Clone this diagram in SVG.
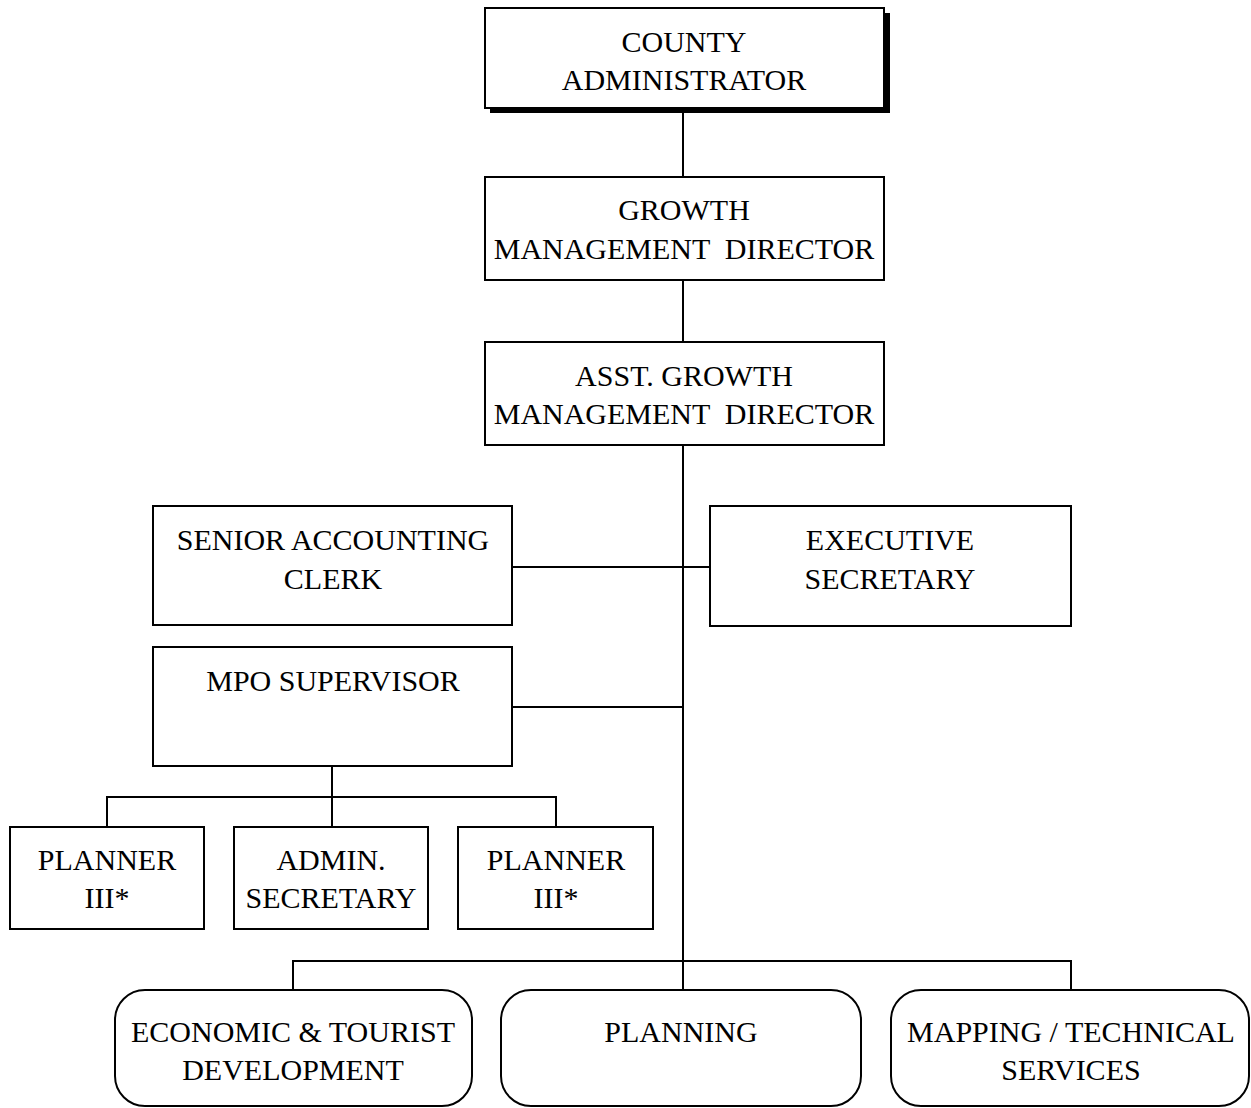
<svg xmlns="http://www.w3.org/2000/svg" width="1251" height="1108" viewBox="0 0 1251 1108">
  <style>
    .box { fill: #fff; stroke: #000; stroke-width: 2; }
    .shadow { fill: #000; }
    .lbl { font-family: "Liberation Serif", "Times New Roman", serif; font-size: 30px; fill: #000; text-anchor: middle; white-space: pre; }
    .wire { fill: none; stroke: #000; stroke-width: 2; }
  </style>
  <rect width="1251" height="1108" fill="#fff"/>

  <!-- reporting lines -->
  <g id="connectors">
    <path class="wire" d="M683 110 V177"/>
    <path class="wire" d="M683 280 V342"/>
    <path class="wire" d="M683 445 V990"/>
    <path class="wire" d="M512 567 H710"/>
    <path class="wire" d="M512 707 H683"/>
    <path class="wire" d="M332 766 V797 M107 827 V797 H556 V827 M332 797 V827"/>
    <path class="wire" d="M293 990 V961 H1071 V990"/>
  </g>

  <g id="county-administrator">
    <rect class="shadow" x="490" y="13" width="400" height="100"/>
    <rect class="box" x="485" y="8" width="399" height="100"/>
    <text class="lbl" x="684" y="52">COUNTY</text>
    <text class="lbl" x="684" y="90">ADMINISTRATOR</text>
  </g>

  <g id="growth-management-director">
    <rect class="box" x="485" y="177" width="399" height="103"/>
    <text class="lbl" x="684" y="220">GROWTH</text>
    <text class="lbl" x="684" y="259">MANAGEMENT  DIRECTOR</text>
  </g>

  <g id="asst-growth-management-director">
    <rect class="box" x="485" y="342" width="399" height="103"/>
    <text class="lbl" x="684" y="386">ASST. GROWTH</text>
    <text class="lbl" x="684" y="424">MANAGEMENT  DIRECTOR</text>
  </g>

  <g id="senior-accounting-clerk">
    <rect class="box" x="153" y="506" width="359" height="119"/>
    <text class="lbl" x="333" y="550">SENIOR ACCOUNTING</text>
    <text class="lbl" x="333" y="589">CLERK</text>
  </g>

  <g id="executive-secretary">
    <rect class="box" x="710" y="506" width="361" height="120"/>
    <text class="lbl" x="890" y="550">EXECUTIVE</text>
    <text class="lbl" x="890" y="589">SECRETARY</text>
  </g>

  <g id="mpo-supervisor">
    <rect class="box" x="153" y="647" width="359" height="119"/>
    <text class="lbl" x="333" y="691">MPO SUPERVISOR</text>
  </g>

  <g id="planner-iii-a">
    <rect class="box" x="10" y="827" width="194" height="102"/>
    <text class="lbl" x="107" y="870">PLANNER</text>
    <text class="lbl" x="107" y="908">III*</text>
  </g>

  <g id="admin-secretary">
    <rect class="box" x="234" y="827" width="194" height="102"/>
    <text class="lbl" x="331" y="870">ADMIN.</text>
    <text class="lbl" x="331" y="908">SECRETARY</text>
  </g>

  <g id="planner-iii-b">
    <rect class="box" x="458" y="827" width="195" height="102"/>
    <text class="lbl" x="556" y="870">PLANNER</text>
    <text class="lbl" x="556" y="908">III*</text>
  </g>

  <g id="economic-tourist-development">
    <rect class="box" x="115" y="990" width="357" height="116" rx="30" ry="30"/>
    <text class="lbl" x="293" y="1042">ECONOMIC &amp; TOURIST</text>
    <text class="lbl" x="293" y="1080">DEVELOPMENT</text>
  </g>

  <g id="planning">
    <rect class="box" x="501" y="990" width="360" height="116" rx="30" ry="30"/>
    <text class="lbl" x="681" y="1042">PLANNING</text>
  </g>

  <g id="mapping-technical-services">
    <rect class="box" x="891" y="990" width="358" height="116" rx="30" ry="30"/>
    <text class="lbl" x="1071" y="1042">MAPPING / TECHNICAL</text>
    <text class="lbl" x="1071" y="1080">SERVICES</text>
  </g>
</svg>
